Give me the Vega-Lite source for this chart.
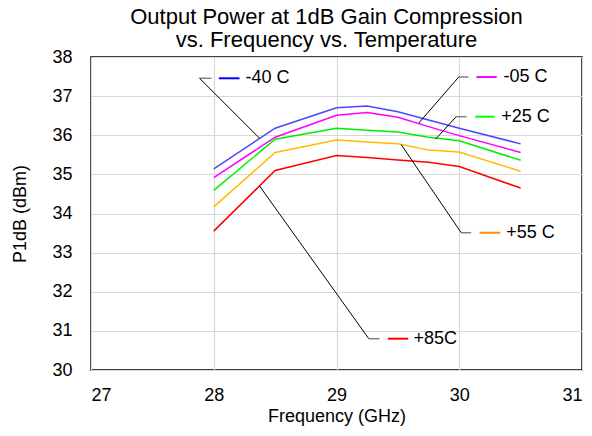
{
  "$schema": "https://vega.github.io/schema/vega-lite/v6.json",
  "width": 491,
  "height": 313,
  "autosize": {"type": "none"},
  "padding": {"left": 91, "top": 57, "right": 10, "bottom": 66},
  "background": "white",
  "config": {
    "font": "Liberation Sans",
    "view": {"stroke": "black", "strokeWidth": 1.5},
    "axis": {"labelFont": "Liberation Sans", "titleFont": "Liberation Sans", "labelColor": "black", "titleColor": "black", "labelFontSize": 18, "titleFontSize": 18, "titleFontWeight": "normal", "ticks": false, "domain": false, "gridColor": "#d9d9d9", "gridWidth": 1.2, "labelOverlap": false}
  },
  "title": {
    "text": ["Output Power at 1dB Gain Compression", "vs. Frequency vs. Temperature"],
    "font": "Liberation Sans",
    "fontSize": 22,
    "fontWeight": "normal",
    "color": "black",
    "offset": 7,
    "dy": 11,
    "lineHeight": 23,
    "dx": -10
  },
  "datasets": {
    "p1db": [
      {"freq": 28, "p1db": 35.14, "temp": "-40 C"},
      {"freq": 28.5, "p1db": 36.18, "temp": "-40 C"},
      {"freq": 29, "p1db": 36.70, "temp": "-40 C"},
      {"freq": 29.25, "p1db": 36.75, "temp": "-40 C"},
      {"freq": 29.5, "p1db": 36.60, "temp": "-40 C"},
      {"freq": 29.75, "p1db": 36.39, "temp": "-40 C"},
      {"freq": 30, "p1db": 36.18, "temp": "-40 C"},
      {"freq": 30.5, "p1db": 35.78, "temp": "-40 C"},
      {"freq": 28, "p1db": 34.92, "temp": "-05 C"},
      {"freq": 28.5, "p1db": 35.95, "temp": "-05 C"},
      {"freq": 29, "p1db": 36.51, "temp": "-05 C"},
      {"freq": 29.25, "p1db": 36.58, "temp": "-05 C"},
      {"freq": 29.5, "p1db": 36.46, "temp": "-05 C"},
      {"freq": 29.75, "p1db": 36.22, "temp": "-05 C"},
      {"freq": 30, "p1db": 35.99, "temp": "-05 C"},
      {"freq": 30.5, "p1db": 35.56, "temp": "-05 C"},
      {"freq": 28, "p1db": 34.59, "temp": "+25 C"},
      {"freq": 28.5, "p1db": 35.90, "temp": "+25 C"},
      {"freq": 29, "p1db": 36.18, "temp": "+25 C"},
      {"freq": 29.25, "p1db": 36.13, "temp": "+25 C"},
      {"freq": 29.5, "p1db": 36.08, "temp": "+25 C"},
      {"freq": 29.75, "p1db": 35.95, "temp": "+25 C"},
      {"freq": 30, "p1db": 35.86, "temp": "+25 C"},
      {"freq": 30.5, "p1db": 35.36, "temp": "+25 C"},
      {"freq": 28, "p1db": 34.17, "temp": "+55 C"},
      {"freq": 28.5, "p1db": 35.56, "temp": "+55 C"},
      {"freq": 29, "p1db": 35.88, "temp": "+55 C"},
      {"freq": 29.25, "p1db": 35.83, "temp": "+55 C"},
      {"freq": 29.5, "p1db": 35.78, "temp": "+55 C"},
      {"freq": 29.75, "p1db": 35.62, "temp": "+55 C"},
      {"freq": 30, "p1db": 35.57, "temp": "+55 C"},
      {"freq": 30.5, "p1db": 35.08, "temp": "+55 C"},
      {"freq": 28, "p1db": 33.55, "temp": "+85C"},
      {"freq": 28.5, "p1db": 35.10, "temp": "+85C"},
      {"freq": 29, "p1db": 35.48, "temp": "+85C"},
      {"freq": 29.25, "p1db": 35.43, "temp": "+85C"},
      {"freq": 29.5, "p1db": 35.37, "temp": "+85C"},
      {"freq": 29.75, "p1db": 35.31, "temp": "+85C"},
      {"freq": 30, "p1db": 35.20, "temp": "+85C"},
      {"freq": 30.5, "p1db": 34.65, "temp": "+85C"}
    ],
    "labels": [
      {"temp": "-40 C", "hx1": 27.884, "hx2": 27.982, "ly": 37.456, "px": 28.373, "py": 35.922, "sx1": 28.041, "sx2": 28.210, "tx": 28.259},
      {"temp": "-05 C", "hx1": 29.996, "hx2": 30.075, "ly": 37.489, "px": 29.670, "py": 36.31, "sx1": 30.141, "sx2": 30.305, "tx": 30.360},
      {"temp": "+25 C", "hx1": 29.975, "hx2": 30.059, "ly": 36.474, "px": 29.807, "py": 35.90, "sx1": 30.130, "sx2": 30.287, "tx": 30.342},
      {"temp": "+55 C", "hx1": 30.016, "hx2": 30.097, "ly": 33.509, "px": 29.527, "py": 35.76, "sx1": 30.165, "sx2": 30.334, "tx": 30.382},
      {"temp": "+85C", "hx1": 29.263, "hx2": 29.350, "ly": 30.800, "px": 28.373, "py": 34.703, "sx1": 29.418, "sx2": 29.584, "tx": 29.627}
    ]
  },
  "layer": [
    {
      "data": {"name": "p1db"},
      "mark": {"type": "line", "strokeWidth": 1.5},
      "encoding": {
        "x": {"field": "freq", "type": "quantitative", "scale": {"domain": [27, 31], "nice": false}, "axis": {"values": [27, 28, 29, 30, 31], "format": "d", "title": "Frequency (GHz)", "labelPadding": 16, "titlePadding": 3}},
        "y": {"field": "p1db", "type": "quantitative", "scale": {"domain": [30, 38], "nice": false, "zero": false}, "axis": {"values": [30, 31, 32, 33, 34, 35, 36, 37, 38], "format": "d", "title": "P1dB  (dBm)", "labelPadding": 19, "titlePadding": 22}},
        "color": {"field": "temp", "type": "nominal", "scale": {"domain": ["-40 C", "-05 C", "+25 C", "+55 C", "+85C"], "range": ["#4848ff", "#ff00ff", "#00ee00", "#ffbb00", "#ff0000"]}, "legend": null}
      }
    },
    {
      "data": {"name": "labels"},
      "mark": {"type": "rule", "color": "#808080", "strokeWidth": 1.5},
      "encoding": {
        "x": {"field": "hx1", "type": "quantitative", "axis": {"values": [27, 28, 29, 30, 31], "format": "d", "title": "Frequency (GHz)", "labelPadding": 16, "titlePadding": 3}},
        "x2": {"field": "hx2"},
        "y": {"field": "ly", "type": "quantitative", "axis": {"values": [30, 31, 32, 33, 34, 35, 36, 37, 38], "format": "d", "title": "P1dB  (dBm)", "labelPadding": 19, "titlePadding": 22}}
      }
    },
    {
      "data": {"name": "labels"},
      "mark": {"type": "rule", "color": "black", "strokeWidth": 1},
      "encoding": {
        "x": {"field": "hx1", "type": "quantitative", "axis": {"values": [27, 28, 29, 30, 31], "format": "d", "title": "Frequency (GHz)", "labelPadding": 16, "titlePadding": 3}},
        "x2": {"field": "px"},
        "y": {"field": "ly", "type": "quantitative", "axis": {"values": [30, 31, 32, 33, 34, 35, 36, 37, 38], "format": "d", "title": "P1dB  (dBm)", "labelPadding": 19, "titlePadding": 22}},
        "y2": {"field": "py"}
      }
    },
    {
      "data": {"name": "labels"},
      "mark": {"type": "rule", "strokeWidth": 2},
      "encoding": {
        "x": {"field": "sx1", "type": "quantitative", "axis": {"values": [27, 28, 29, 30, 31], "format": "d", "title": "Frequency (GHz)", "labelPadding": 16, "titlePadding": 3}},
        "x2": {"field": "sx2"},
        "y": {"field": "ly", "type": "quantitative", "axis": {"values": [30, 31, 32, 33, 34, 35, 36, 37, 38], "format": "d", "title": "P1dB  (dBm)", "labelPadding": 19, "titlePadding": 22}},
        "color": {"field": "temp", "type": "nominal", "scale": {"domain": ["-40 C", "-05 C", "+25 C", "+55 C", "+85C"], "range": ["#0000ff", "#ff00ff", "#00ff00", "#ff8c00", "#ff0000"]}, "legend": null}
      }
    },
    {
      "data": {"name": "labels"},
      "mark": {"type": "text", "align": "left", "baseline": "middle", "fontSize": 18, "font": "Liberation Sans", "color": "black"},
      "encoding": {
        "x": {"field": "tx", "type": "quantitative", "axis": {"values": [27, 28, 29, 30, 31], "format": "d", "title": "Frequency (GHz)", "labelPadding": 16, "titlePadding": 3}},
        "y": {"field": "ly", "type": "quantitative", "axis": {"values": [30, 31, 32, 33, 34, 35, 36, 37, 38], "format": "d", "title": "P1dB  (dBm)", "labelPadding": 19, "titlePadding": 22}},
        "text": {"field": "temp"}
      }
    }
  ],
  "resolve": {"scale": {"color": "independent"}}
}
